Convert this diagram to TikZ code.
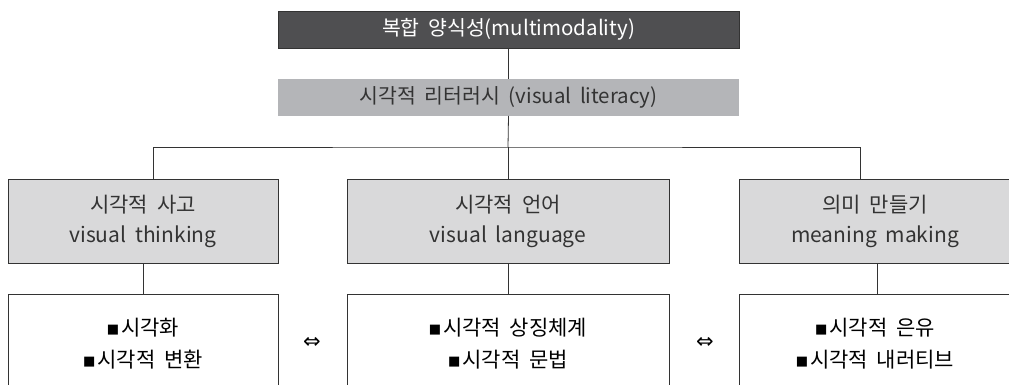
\documentclass[tikz,border=0pt]{standalone}
\usepackage{fontspec}
\setmainfont{Noto Sans CJK KR}
\newfontfamily\symfont{DejaVu Sans}
\usetikzlibrary{calc}
\definecolor{darkbox}{HTML}{4F4F51}
\definecolor{midbox}{HTML}{B4B5B8}
\definecolor{lightbox}{HTML}{D9D9DA}
\definecolor{edgecol}{HTML}{333333}
\newcommand{\wsp}{\spaceskip=0.42em plus 0.1em\relax}
\begin{document}
\begin{tikzpicture}[x=1pt,y=-1pt,
  every node/.style={inner sep=0pt, outer sep=0pt},
  topbox/.style={rectangle, fill=darkbox, draw=edgecol, line width=0.9pt, text=white,
    minimum width=461pt, minimum height=37pt, font=\fontsize{20.5}{22}\selectfont\wsp},
  litbox/.style={rectangle, fill=midbox, minimum width=461pt, minimum height=37pt,
    text=edgecol, font=\fontsize{20.5}{22}\selectfont\wsp},
  catbox/.style={rectangle, fill=lightbox, draw=edgecol, line width=0.9pt, minimum height=84pt,
    align=center, text=edgecol, font=\fontsize{21}{30}\selectfont\wsp},
  itembox/.style={rectangle, fill=white, draw=edgecol, line width=0.9pt, minimum height=100pt,
    align=center, text=black, font=\fontsize{21}{32}\selectfont\wsp},
  conn/.style={draw=edgecol, line width=0.8pt},
  sym/.style={font=\symfont\fontsize{21}{22}\selectfont, text=black}
]
\useasboundingbox (0,0) rectangle (1009,385);
\newcommand{\bul}{\raisebox{2.5pt}{\symfont\fontsize{13}{13}\selectfont ■}\hspace{2pt}}
\node[topbox] (top) at (508.5,29.5) {복합 양식성(multimodality)};
\node[litbox] (lit) at (508.5,97.5) {시각적 리터러시 (visual literacy)};
\coordinate (br) at (508,147);
\node[catbox, minimum width=270pt] (ca) at (143,221) {시각적 사고\\visual thinking};
\node[catbox, minimum width=322pt] (cb) at (508,221) {시각적 언어\\visual language};
\node[catbox, minimum width=272pt] (cc) at (875,221) {의미 만들기\\meaning making};
\node[itembox, minimum width=270pt] (ia) at (143,344) {\bul 시각화\\\bul 시각적 변환};
\node[itembox, minimum width=322pt] (ib) at (508,344) {\bul 시각적 상징체계\\\bul 시각적 문법};
\node[itembox, minimum width=272pt] (ic) at (875,344) {\bul 시각적 은유\\\bul 시각적 내러티브};
\node[sym] (s1) at (312,343) {⇔};
\node[sym] (s2) at (705,343) {⇔};
\draw[conn] (top.south) -- (lit.north);
\draw[conn] (lit.south) -- (br);
\draw[conn] ([xshift=10pt]ca.north) |- (br) -| ([xshift=-15pt]cc.north);
\draw[conn] (br) -- (cb.north);
\draw[conn] (ca.south) -- (ia.north);
\draw[conn] (cb.south) -- (ib.north);
\draw[conn] ([xshift=2pt]cc.south) -- ([xshift=2pt]ic.north);
\end{tikzpicture}
\end{document}
